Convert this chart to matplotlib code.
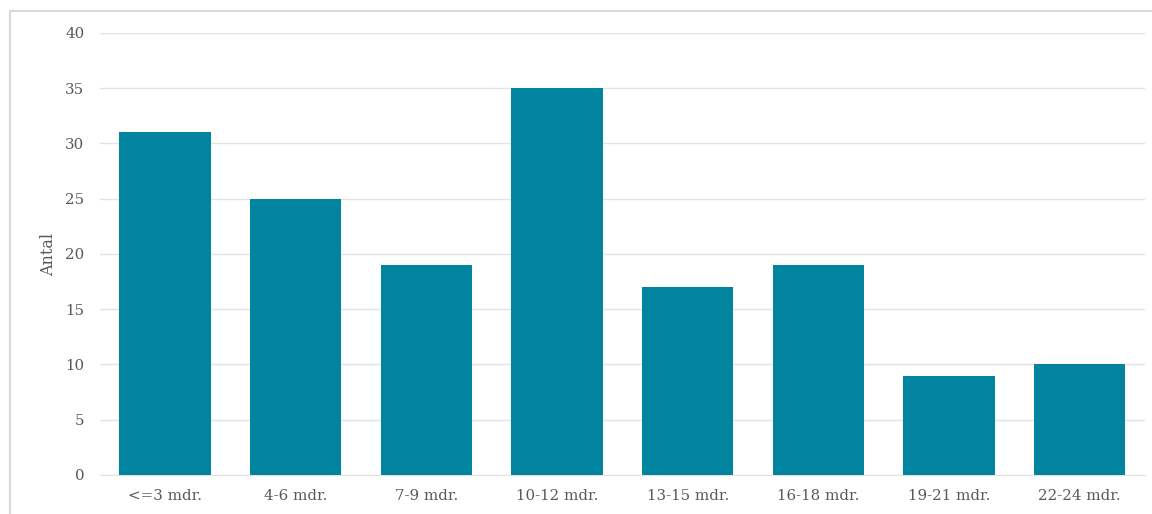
import matplotlib
matplotlib.use("Agg")
import matplotlib.pyplot as plt
from matplotlib.lines import Line2D

categories = ["<=3 mdr.", "4-6 mdr.", "7-9 mdr.", "10-12 mdr.",
              "13-15 mdr.", "16-18 mdr.", "19-21 mdr.", "22-24 mdr."]
counts = [31, 25, 19, 35, 17, 19, 9, 10]
y_ticks = [0, 5, 10, 15, 20, 25, 30, 35, 40]

bar_color = "#00849F"
text_color = "#595959"
grid_color = "#E3E3E3"
frame_color = "#D9D9D9"

plt.rcParams["font.family"] = ["DejaVu Serif"]

fig = plt.figure(figsize=(11.52, 5.14), dpi=100)
ax = fig.add_axes([0.0865, 0.0759, 0.9074, 0.8599])

x = range(len(categories))
ax.bar(x, counts, width=0.70, color=bar_color, zorder=3)

ax.set_xlim(-0.5, len(categories) - 0.5)
ax.set_ylim(0, 40)
ax.set_yticks(y_ticks)
ax.set_yticklabels([str(t) for t in y_ticks])
ax.set_xticks(list(x))
ax.set_xticklabels(categories)

ax.grid(axis="y", color=grid_color, linewidth=1.0, zorder=0)
ax.tick_params(axis="both", length=0, colors=text_color, labelsize=10.8)
ax.tick_params(axis="y", pad=11)
ax.tick_params(axis="x", pad=10)
for side in ["top", "right", "left"]:
    ax.spines[side].set_visible(False)
ax.spines["bottom"].set_color(grid_color)

ax.set_ylabel("Antal", color=text_color, fontsize=11.5, labelpad=6)

# outer chart frame (left and top edges)
fig.add_artist(Line2D([10 / 1152, 10 / 1152], [0, 1 - 11 / 514],
                      transform=fig.transFigure, color=frame_color, linewidth=1.5))
fig.add_artist(Line2D([10 / 1152, 1], [1 - 11 / 514, 1 - 11 / 514],
                      transform=fig.transFigure, color=frame_color, linewidth=1.5))

fig.savefig("out.png", dpi=100)
